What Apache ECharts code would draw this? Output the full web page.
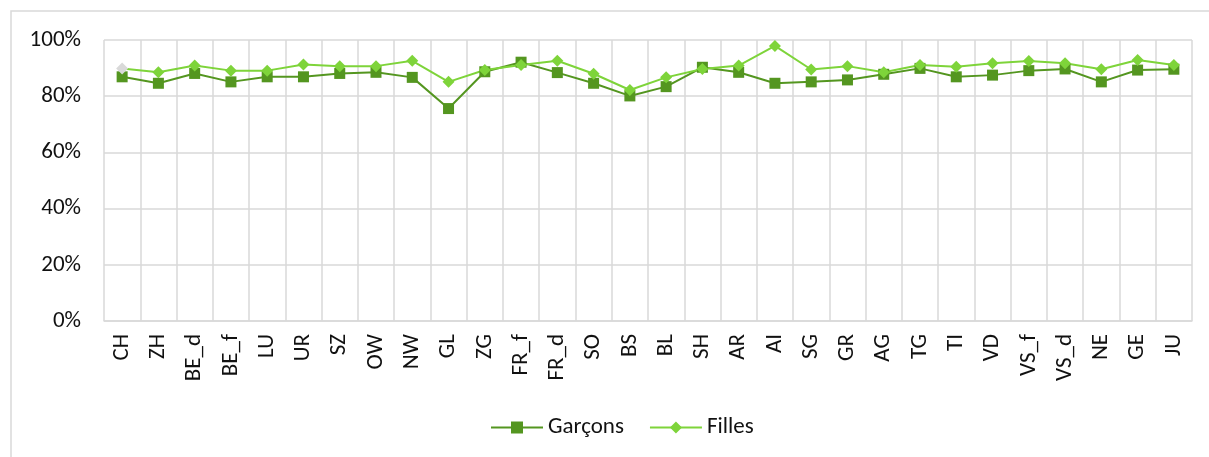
<!DOCTYPE html>
<html>
<head>
<meta charset="utf-8">
<script src="https://cdn.jsdelivr.net/npm/echarts@6/dist/echarts.min.js"></script>
<style>
  html, body { margin: 0; padding: 0; background: #fff; }
  #main { width: 1209px; height: 457px; }
</style>
</head>
<body>
<div id="main"></div>
<script>
// cantons
var cantons = ['CH','ZH','BE_d','BE_f','LU','UR','SZ','OW','NW','GL','ZG','FR_f','FR_d','SO','BS','BL','SH','AR','AI','SG','GR','AG','TG','TI','VD','VS_f','VS_d','NE','GE','JU'];
// parts en %
var garcons = [86.9,84.6,88.1,85.1,86.9,86.9,88.1,88.5,86.7,75.6,88.7,92.1,88.4,84.6,80.1,83.4,90.3,88.5,84.6,85.1,85.8,87.8,89.9,86.9,87.5,89.1,89.7,85.1,89.3,89.6];
var filles = [89.9,88.5,90.9,89.1,89.1,91.3,90.7,90.7,92.6,85.1,89.3,91.1,92.6,88.0,82.2,86.7,89.7,90.9,97.9,89.5,90.7,88.5,91.1,90.5,91.7,92.5,91.7,89.6,92.9,91.1];
var yTicks = [0, 20, 40, 60, 80, 100];

var font = 'Carlito, Calibri, "Liberation Sans", sans-serif';
var colG = '#549620';
var colF = '#7ed43a';

var chart = echarts.init(document.getElementById('main'), null, {renderer: 'canvas'});

var fillesData = filles.map(function (v, i) {
  if (i == 0) {
    // CH en gris
    return {value: v, itemStyle: {color: '#d9d9d9'}};
  }
  return v;
});

var option = {
  animation: false,
  textStyle: {fontFamily: font},
  graphic: [{
    type: 'rect',
    shape: {x: 11, y: 11, width: 1220, height: 470},
    style: {fill: 'none', stroke: '#d9d9d9', lineWidth: 1.5},
    silent: true
  }],
  grid: {left: 104, right: 17, top: 40, bottom: 136, containLabel: false},
  legend: {
    left: 485,
    top: 411,
    itemWidth: 52,
    itemHeight: 15,
    itemGap: 25,
    textStyle: {fontFamily: font, fontSize: 23, color: '#111'},
    data: ['Garçons', 'Filles']
  },
  xAxis: {
    type: 'category',
    data: cantons,
    boundaryGap: true,
    axisLine: {lineStyle: {color: '#d9d9d9', width: 1.5}},
    axisTick: {show: false},
    splitLine: {show: true, lineStyle: {color: '#d9d9d9', width: 1.5}},
    axisLabel: {
      interval: 0,
      rotate: 90,
      margin: 13,
      fontSize: 23,
      color: '#111',
      fontFamily: font
    }
  },
  yAxis: {
    type: 'value',
    min: yTicks[0],
    max: yTicks[yTicks.length - 1],
    interval: 20,
    axisLine: {show: false},
    axisTick: {show: false},
    splitLine: {lineStyle: {color: '#d9d9d9', width: 1.5}},
    axisLabel: {
      margin: 23,
      fontSize: 23,
      color: '#111',
      fontFamily: font,
      formatter: '{value}%'
    }
  },
  series: [
    {
      name: 'Garçons',
      type: 'line',
      data: garcons,
      symbol: 'rect',
      symbolSize: 11,
      lineStyle: {color: colG, width: 2},
      itemStyle: {color: colG}
    },
    {
      name: 'Filles',
      type: 'line',
      data: fillesData,
      symbol: 'diamond',
      symbolSize: 12,
      lineStyle: {color: colF, width: 2},
      itemStyle: {color: colF}
    }
  ]
};

chart.setOption(option);
</script>
</body>
</html>
